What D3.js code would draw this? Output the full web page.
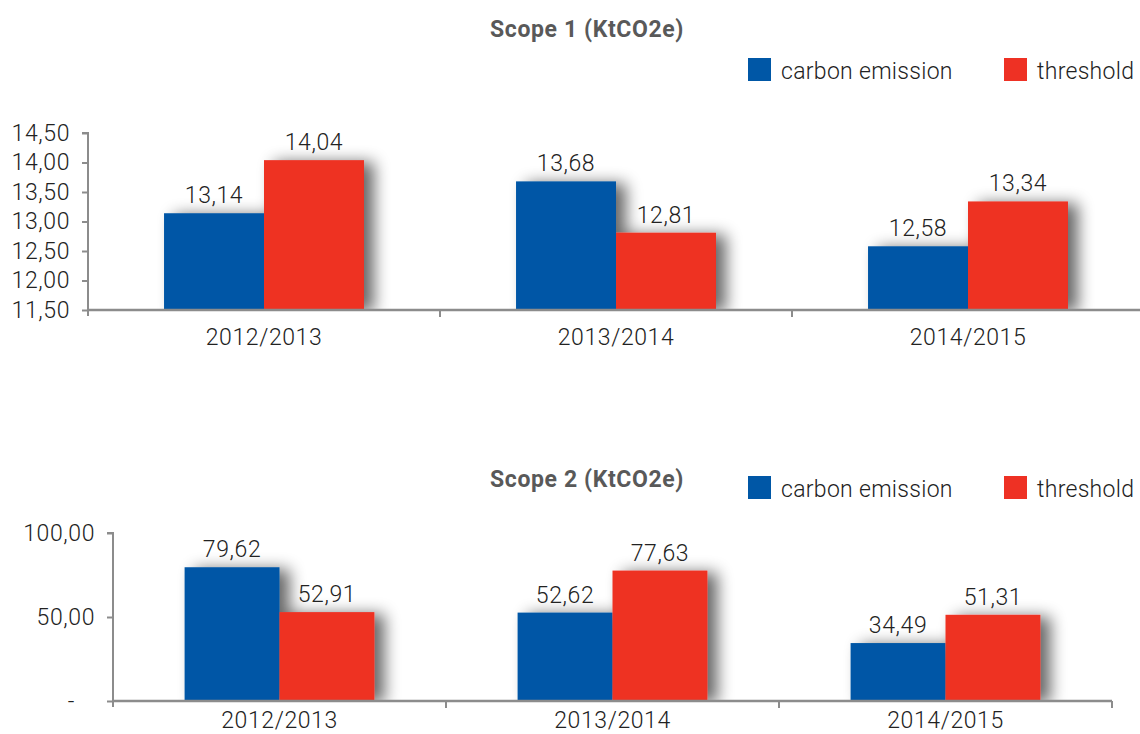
<!DOCTYPE html>
<html>
<head>
<meta charset="utf-8">
<script src="https://cdn.jsdelivr.net/npm/d3@7"></script>
<style>
  html, body { margin: 0; padding: 0; background: #fff; }
  svg text { font-family: "Roboto", "Liberation Sans", sans-serif; }
</style>
</head>
<body>
<svg id="chart" width="1140" height="734"></svg>
<script>
// ---- data ----
const categories = ["2012/2013", "2013/2014", "2014/2015"];
const seriesNames = ["carbon emission", "threshold"];
const scope1Emission = [13.14, 13.68, 12.58];
const scope1Threshold = [14.04, 12.81, 13.34];
const scope2Emission = [79.62, 52.62, 34.49];
const scope2Threshold = [52.91, 77.63, 51.31];
const scope1Ticks = [11.5, 12.0, 12.5, 13.0, 13.5, 14.0, 14.5];
const scope2Ticks = [0, 50, 100];
const titles = ["Scope 1 (KtCO2e)", "Scope 2 (KtCO2e)"];

const colors = { "carbon emission": "#0057a6", "threshold": "#ee3124" };
const locale = d3.formatLocale({ decimal: ",", thousands: ".", grouping: [3], currency: ["", ""] });
const fmt = locale.format(".2f");
const FS = 23, LS = 0.6, FW = 300, TXT = "#222";

const svg = d3.select("#chart");
const defs = svg.append("defs");
const filt = defs.append("filter").attr("id", "shadow")
  .attr("x", "-20%").attr("y", "-20%").attr("width", "150%").attr("height", "150%");
filt.append("feGaussianBlur").attr("in", "SourceAlpha").attr("stdDeviation", 8).attr("result", "blur");
filt.append("feOffset").attr("in", "blur").attr("dx", 10).attr("dy", 2).attr("result", "off");
filt.append("feComponentTransfer").attr("in", "off").attr("result", "sh")
  .append("feFuncA").attr("type", "linear").attr("slope", 0.6);
const merge = filt.append("feMerge");
merge.append("feMergeNode").attr("in", "sh");
merge.append("feMergeNode").attr("in", "SourceGraphic");

function styleText(sel) {
  return sel.attr("font-size", FS).attr("font-weight", FW).attr("fill", TXT)
    .attr("letter-spacing", LS)
    .attr("font-family", "Roboto, 'Liberation Sans', sans-serif");
}

function drawChart(cfg) {
  const g = svg.append("g");
  const data = categories.map((c, i) => ({ cat: c, values: [
    { key: seriesNames[0], value: cfg.emission[i] },
    { key: seriesNames[1], value: cfg.threshold[i] } ] }));

  const x = d3.scaleBand().domain(categories).range([cfg.x0, cfg.x1])
    .paddingInner(cfg.pad).paddingOuter(cfg.pad / 2);
  const x1 = d3.scaleBand().domain(seriesNames).range([0, x.bandwidth()]);
  const y = d3.scaleLinear().domain(cfg.domain).range([cfg.yBottom, cfg.yTop]);

  const clipId = "clip" + cfg.id;
  defs.append("clipPath").attr("id", clipId).append("rect")
    .attr("x", cfg.x0 + 1).attr("y", cfg.yTop - 60)
    .attr("width", 1140 - cfg.x0).attr("height", cfg.yBottom - cfg.yTop + 60);

  // bars
  const groups = g.append("g").attr("clip-path", `url(#${clipId})`)
    .selectAll("g.cat").data(data).join("g")
    .attr("class", "cat")
    .attr("transform", d => `translate(${x(d.cat)},0)`)
    .attr("filter", "url(#shadow)");
  groups.selectAll("rect").data(d => d.values).join("rect")
    .attr("x", d => x1(d.key))
    .attr("y", d => y(d.value))
    .attr("width", x1.bandwidth())
    .attr("height", d => y(cfg.domain[0]) - y(d.value))
    .attr("fill", d => colors[d.key]);

  // value labels
  const lab = g.selectAll("g.lab").data(data).join("g")
    .attr("transform", d => `translate(${x(d.cat)},0)`);
  styleText(lab.selectAll("text").data(d => d.values).join("text")
    .attr("x", d => x1(d.key) + x1.bandwidth() / 2)
    .attr("y", d => y(d.value) - 10)
    .attr("text-anchor", "middle"))
    .text(d => fmt(d.value));

  // y axis
  const yAxis = d3.axisLeft(y).tickValues(cfg.ticks).tickSize(6).tickPadding(12)
    .tickFormat(v => v === 0 ? "-" : fmt(v));
  const ya = g.append("g").attr("transform", `translate(${cfg.x0},0)`).call(yAxis);
  ya.select(".domain").attr("stroke", "#8c8c8c").attr("stroke-width", 2)
    .attr("d", `M-6,${cfg.yTop}H0V${cfg.yBottom + 6}`);
  ya.selectAll(".tick line").attr("stroke", "#8c8c8c").attr("stroke-width", 2);
  styleText(ya.selectAll(".tick text"));
  if (cfg.dashOffset) ya.selectAll(".tick text").filter(v => v === 0).attr("dx", -cfg.dashOffset);

  // x axis
  const xAxis = d3.axisBottom(x).tickSize(0).tickPadding(0);
  const xa = g.append("g").attr("transform", `translate(0,${cfg.yBottom})`).call(xAxis);
  xa.select(".domain").attr("stroke", "#8c8c8c").attr("stroke-width", 2.5)
    .attr("d", `M${cfg.x0},0H${cfg.x1}`);
  styleText(xa.selectAll(".tick text")).attr("y", cfg.catLabelOffset).attr("dy", 0);
  const bounds = categories.map(c => x(c) - x.step() * x.paddingInner() / 2).slice(1);
  bounds.push(x(categories[categories.length - 1]) + x.bandwidth() + x.step() * x.paddingInner() / 2);
  xa.selectAll("line.bt").data(bounds).join("line").attr("class", "bt")
    .attr("x1", d => d).attr("x2", d => d).attr("y1", 0).attr("y2", 7)
    .attr("stroke", "#8c8c8c").attr("stroke-width", 2);

  // title
  g.append("text").attr("x", 587).attr("y", cfg.titleY)
    .attr("text-anchor", "middle").attr("font-size", 23).attr("font-weight", 700)
    .attr("letter-spacing", 0.6)
    .attr("fill", "#595959").text(cfg.title);

  // legend
  const leg = g.selectAll("g.leg").data(seriesNames).join("g")
    .attr("transform", (d, i) => `translate(${i === 0 ? 748 : 1004},${cfg.legendY})`);
  leg.append("rect").attr("width", 23).attr("height", 23).attr("fill", d => colors[d]);
  styleText(leg.append("text").attr("x", 33).attr("y", 21)).attr("letter-spacing", 0.3).text(d => d);
}

drawChart({ id: 1, title: titles[0], emission: scope1Emission, threshold: scope1Threshold,
  domain: [11.5, 14.5], ticks: scope1Ticks, x0: 88, x1: 1144, pad: 0.432,
  yTop: 133, yBottom: 310, titleY: 37, legendY: 58, catLabelOffset: 35 });
drawChart({ id: 2, title: titles[1], emission: scope2Emission, threshold: scope2Threshold,
  domain: [0, 100], ticks: scope2Ticks, x0: 113, x1: 1112, pad: 0.43,
  yTop: 533, yBottom: 701, titleY: 487, legendY: 476, dashOffset: 20, catLabelOffset: 27 });
</script>
</body>
</html>
